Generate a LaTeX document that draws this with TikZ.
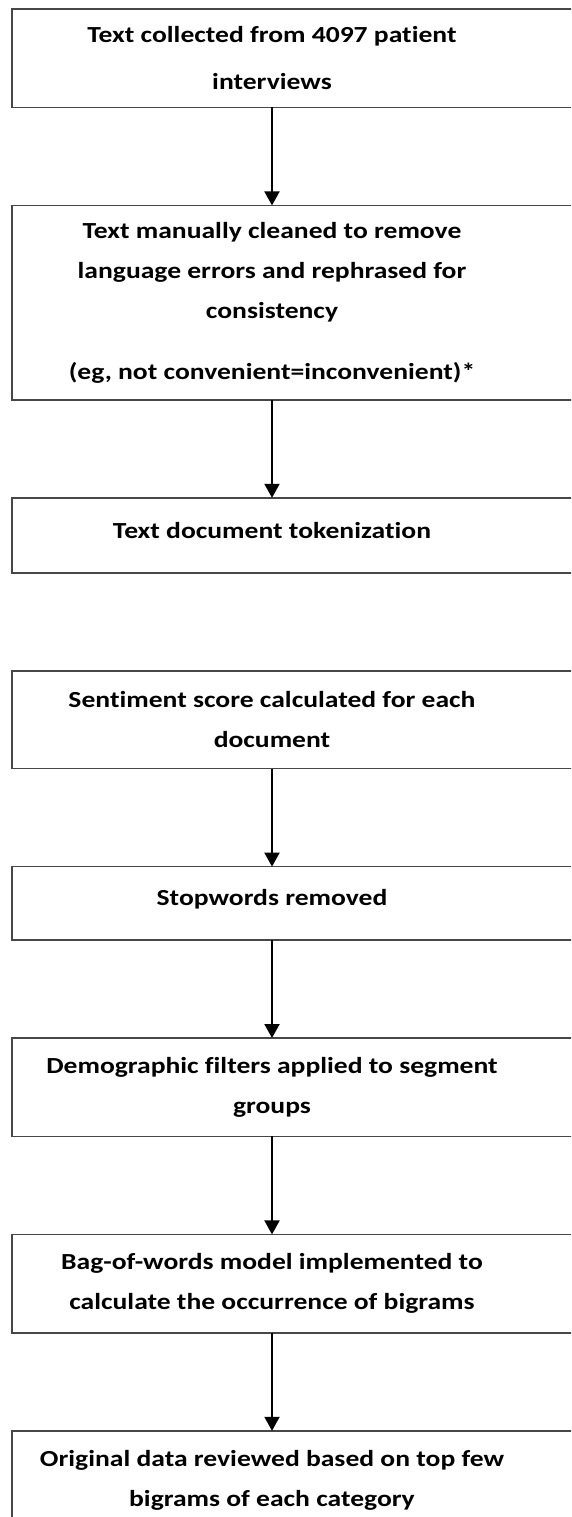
\documentclass[tikz,border=0pt]{standalone}
\usepackage{fontspec}
\setmainfont{Carlito}[FakeStretch=1.2,Ligatures=NoCommon]
\usetikzlibrary{arrows.meta,positioning}
\newcommand{\stepwd}{520pt}
\colorlet{framegray}{black!72}
\tikzset{
    stepsty/.style={rectangle,minimum width=\stepwd,align=center,inner sep=0pt,font=\bfseries\fontsize{23}{40}\selectfont},
    onesty/.style={stepsty,text depth=11pt},
    framesty/.style={draw=framegray,line width=1.5pt},
    flowsty/.style={->,line width=2pt},
}

\begin{document}
\begin{tikzpicture}[>={Triangle[width=15pt,length=14pt]}, node distance=98pt]
  \useasboundingbox (0,0) rectangle (571pt,-1517pt);
  \clip (0,0) rectangle (571pt,-1517pt);

  \node[stepsty, minimum height=98pt, anchor=north] (collect) at (272pt,-9pt) {Text collected from 4097 patient\\[7pt]interviews};
  \node[stepsty, minimum height=194pt, below=of collect] (clean) {Text manually cleaned to remove\\language errors and rephrased for\\consistency\\[21pt](eg, not convenient=inconvenient)*};
  \node[onesty, minimum height=75pt, below=of clean] (token) {Text document tokenization};
  \node[stepsty, minimum height=97pt, below=of token] (senti) {Sentiment score calculated for each\\document};
  \node[onesty, minimum height=73pt, below=of senti] (stop) {Stopwords removed};
  \node[stepsty, minimum height=98pt, below=of stop] (demo) {Demographic filters applied to segment\\groups};
  \node[stepsty, minimum height=98pt, below=of demo] (bow) {Bag-of-words model implemented to\\calculate the occurrence of bigrams};
  \node[stepsty, minimum height=98pt, below=of bow] (review) {Original data reviewed based on top few\\bigrams of each category};

  % frames run past the right edge
  \foreach \s in {collect,clean,token,senti,stop,demo,bow,review}
    \draw[framesty] (\s.north west) rectangle ([xshift=60pt]\s.south east);

  \draw[flowsty] (collect) -- (clean);
  \draw[flowsty] (clean) -- (token);
  \draw[flowsty] (senti) -- (stop);
  \draw[flowsty] (stop) -- (demo);
  \draw[flowsty] (demo) -- (bow);
  \draw[flowsty] (bow) -- (review);
\end{tikzpicture}
\end{document}
